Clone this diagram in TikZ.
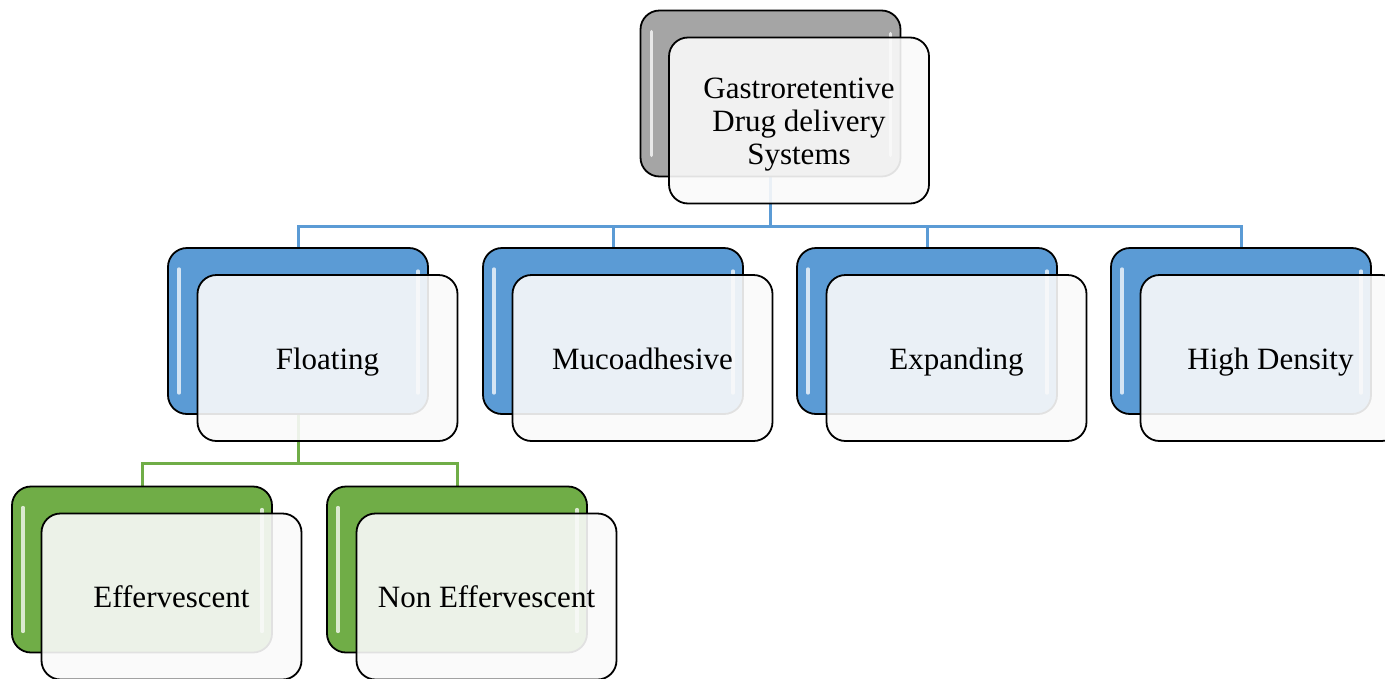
\documentclass[tikz,border=0pt]{standalone}
\usepackage{fontspec}
\setmainfont{Liberation Serif}
\definecolor{grayback}{HTML}{A5A5A5}
\definecolor{blueback}{HTML}{5B9BD5}
\definecolor{greenback}{HTML}{70AD47}
\definecolor{bluelink}{HTML}{5B9BD5}
\definecolor{greenlink}{HTML}{70AD47}
\definecolor{frontfill}{HTML}{FAFAFA}
\newcommand\lowtext[1]{\raisebox{-4.5pt}[\height][\depth]{\begin{tabular}{@{}c@{}}#1\end{tabular}}}
\tikzset{
  backbox/.style={draw=black, line width=1.8pt, rounded corners=19pt,
    minimum width=260pt, minimum height=166pt, inner sep=0pt},
  frontbox/.style={draw=black, line width=1.8pt, rounded corners=19pt,
    minimum width=260pt, minimum height=166pt, inner sep=0pt,
    fill=frontfill, fill opacity=0.9, text opacity=1,
    font=\fontsize{31}{33}\selectfont},
  hilite/.style={draw=white, draw opacity=0.75, line width=3.5pt, line cap=round},
  link/.style={line width=3pt}
}
\begin{document}
\begin{tikzpicture}[x=1pt,y=-1pt]
\useasboundingbox (0,0) rectangle (1385,678);
\clip (0,0) rectangle (1385,678);
% coordinates of the back boxes
\coordinate (pG) at (770.5,93.5);
\coordinate (p1) at (298,331);
\coordinate (p2) at (613,331);
\coordinate (p3) at (927,331);
\coordinate (p4) at (1241,331);
\coordinate (p5) at (142,569.5);
\coordinate (p6) at (457,569.5);
\coordinate (busB) at (0,226);
\coordinate (busG) at (0,463);
% connectors
\draw[link, bluelink] (pG) -- (pG |- busB) -| (p1);
\draw[link, bluelink] (pG |- busB) -| (p2);
\draw[link, bluelink] (pG |- busB) -| (p3);
\draw[link, bluelink] (pG |- busB) -| (p4);
\draw[link, greenlink] (p1) -- (p1 |- busG) -| (p5);
\draw[link, greenlink] (p1 |- busG) -| (p6);
% back boxes
\node[backbox, fill=grayback] (gB) at (pG) {};
\node[backbox, fill=blueback] (b1) at (p1) {};
\node[backbox, fill=blueback] (b2) at (p2) {};
\node[backbox, fill=blueback] (b3) at (p3) {};
\node[backbox, fill=blueback] (b4) at (p4) {};
\node[backbox, fill=greenback] (b5) at (p5) {};
\node[backbox, fill=greenback] (b6) at (p6) {};
% highlights
\foreach \b in {gB,b1,b2,b3,b4,b5,b6}{
  \draw[hilite] ([xshift=12pt,yshift=-22pt]\b.north west) -- ([xshift=12pt,yshift=22pt]\b.south west);
  \draw[hilite] ([xshift=-11pt,yshift=-24pt]\b.north east) -- ([xshift=-11pt,yshift=22pt]\b.south east);
}
% front boxes
\node[frontbox] (g) at ([xshift=28.5pt,yshift=-27pt]gB.center) {\lowtext{Gastroretentive\\Drug delivery\\Systems}};
\node[frontbox] (f1) at ([xshift=29.5pt,yshift=-27pt]b1.center) {\lowtext{Floating}};
\node[frontbox] (f2) at ([xshift=29.5pt,yshift=-27pt]b2.center) {\lowtext{Mucoadhesive}};
\node[frontbox] (f3) at ([xshift=29.5pt,yshift=-27pt]b3.center) {\lowtext{Expanding}};
\node[frontbox] (f4) at ([xshift=29.5pt,yshift=-27pt]b4.center) {\lowtext{High Density}};
\node[frontbox] (f5) at ([xshift=29.5pt,yshift=-27pt]b5.center) {\lowtext{Effervescent}};
\node[frontbox] (f6) at ([xshift=29.5pt,yshift=-27pt]b6.center) {\lowtext{Non Effervescent}};
\end{tikzpicture}
\end{document}
